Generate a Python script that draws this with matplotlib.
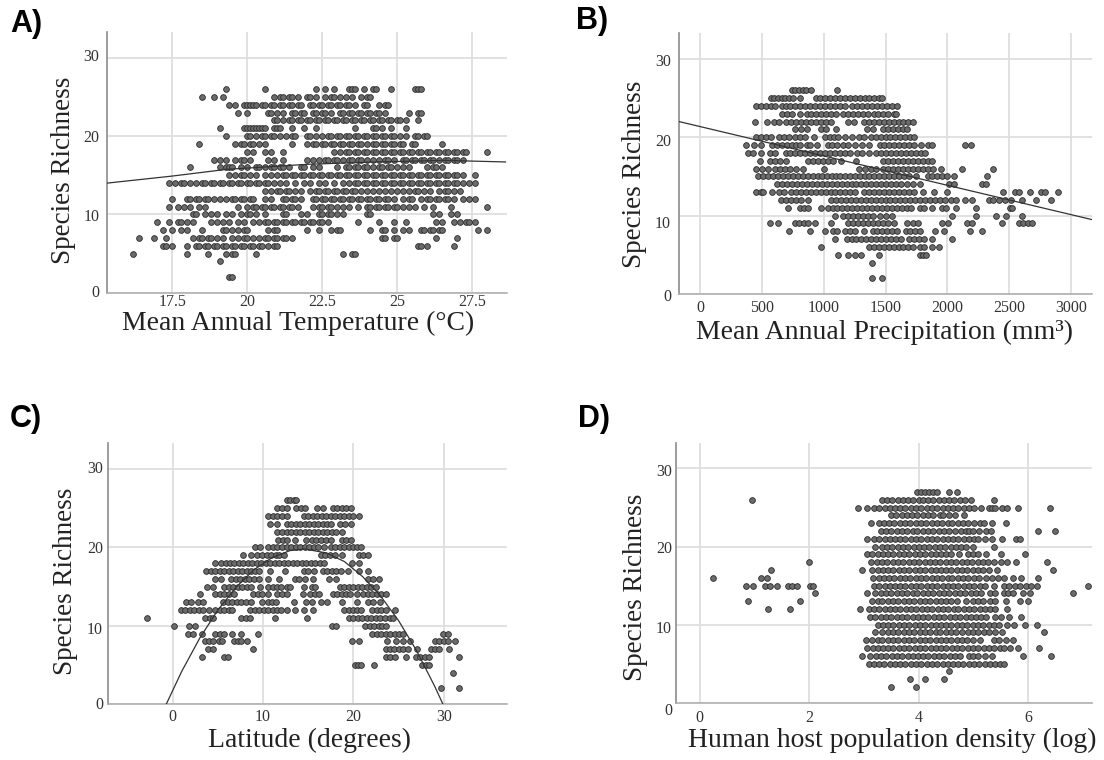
import matplotlib
matplotlib.use('Agg')
import matplotlib.pyplot as plt
from matplotlib.transforms import ScaledTranslation

W, H = 1104, 760

a_y = [26,25,24,23,22,21,20,19,18,17,16,15,14,13,12,11,10,9,8,7,6,5,4,2]
a_x = [
 [19.3,20.6,22.3,22.6,22.9,23.4,23.5,23.6,23.9,24.2,24.3,24.8,25.6,25.7,25.8],
 [18.5,18.9,19.2,20.9,21.1,21.2,21.4,21.5,21.7,22.0,22.1,22.3,22.6,22.8,22.9,23.1,23.3,23.5,23.8,24.0,24.1],
 [19.4,19.6,19.9,20.0,20.1,20.2,20.3,20.5,20.6,20.8,20.9,21.1,21.2,21.4,21.5,21.7,21.8,22.1,22.2,22.4,22.5,22.7,22.8,23.0,23.1,23.3,23.4,23.6,23.9,24.0,24.4,24.6,24.7],
 [19.7,20.0,20.7,20.8,21.0,21.2,21.5,21.6,21.8,21.9,22.2,22.3,22.5,22.6,22.8,23.1,23.2,23.4,23.5,23.7,23.8,24.0,24.1,24.3,24.4,24.6,25.4,25.7,25.8],
 [20.9,21.0,21.2,21.4,21.5,21.7,21.8,22.0,22.1,22.3,22.4,22.6,22.7,22.9,23.0,23.2,23.3,23.5,23.6,23.8,23.9,24.1,24.2,24.4,24.5,24.7,24.8,25.0,25.1,25.3,25.7],
 [19.1,19.9,20.0,20.1,20.2,20.3,20.4,20.5,20.6,20.9,21.0,21.1,21.5,21.9,22.3,23.6,24.2,24.3,24.5,24.8,25.3],
 [19.3,20.0,20.1,20.3,20.5,20.6,20.8,20.9,21.1,21.3,21.5,21.6,22.0,22.1,22.3,22.5,22.7,22.8,23.0,23.1,23.3,23.4,23.6,23.7,23.9,24.0,24.2,24.3,24.5,24.6,24.8,24.9,25.1,25.3,25.6,25.7,25.9,26.0],
 [18.4,19.6,19.8,19.9,20.1,20.2,20.4,20.6,21.5,22.0,22.2,22.3,22.5,22.6,22.8,22.9,23.1,23.2,23.4,23.5,23.7,23.8,24.0,24.2,24.3,24.5,24.6,24.8,24.9,25.1,25.2,25.5,25.6,26.5],
 [20.0,20.2,20.6,20.8,21.2,22.9,23.1,23.3,23.4,23.6,23.7,23.9,24.0,24.2,24.3,24.5,24.6,24.8,24.9,25.1,25.2,25.4,25.5,25.7,25.8,26.0,26.1,26.3,26.4,26.6,26.7,26.9,27.0,27.2,27.3,28.0],
 [18.9,19.1,19.3,19.6,19.8,19.9,20.1,20.7,20.9,21.2,22.0,22.2,22.4,22.6,22.7,22.9,23.0,23.2,23.4,23.5,23.7,23.8,24.0,24.2,24.4,24.6,24.7,24.9,25.2,25.3,25.5,25.6,25.8,25.9,26.1,26.2,26.4,26.6,26.7,26.9,27.0,27.2],
 [18.1,19.1,19.3,19.4,19.5,19.8,20.0,20.3,20.4,20.6,20.8,20.9,21.1,21.2,21.4,21.8,21.9,22.2,22.4,23.0,23.3,23.4,23.6,23.7,23.9,24.0,24.2,24.4,24.5,24.7,24.8,25.0,25.2,25.4,26.0,26.2,26.3,26.5],
 [19.4,19.6,19.8,19.9,20.1,20.3,20.6,20.8,21.0,21.2,21.3,21.5,21.6,21.8,21.9,22.1,22.2,22.4,22.5,22.7,22.8,23.0,23.1,23.3,23.4,23.6,23.7,23.9,24.0,24.2,24.3,24.5,24.6,24.8,24.9,25.1,25.2,25.4,25.5,25.7,25.8,26.0,26.1,26.3,26.4,26.6,26.7,26.9,27.0,27.2,27.6],
 [17.4,17.6,17.8,17.9,18.1,18.3,18.5,18.6,18.8,18.9,19.1,19.2,19.4,19.5,19.7,19.8,20.0,20.1,20.3,20.4,20.6,20.7,20.9,21.1,21.3,21.6,21.9,22.1,22.4,22.6,22.9,23.2,23.4,23.6,23.7,23.9,24.0,24.2,24.3,24.5,24.6,24.8,24.9,25.1,25.2,25.4,25.5,25.7,25.8,26.0,26.1,26.3,26.4,26.6,26.7,26.9,27.0,27.2,27.4,27.6],
 [20.6,20.8,21.0,21.1,21.3,21.4,21.6,21.8,22.1,22.3,22.4,22.6,22.7,22.9,23.0,23.2,23.3,23.5,23.6,23.8,24.0,24.2,24.4,24.6,24.8,25.0,25.2,25.4,25.6,25.7,25.9,26.1,26.4,26.6,26.7,26.9,27.1],
 [17.5,18.0,18.1,18.3,18.4,18.6,18.7,18.9,19.1,19.3,19.5,19.6,19.8,19.9,20.1,20.2,20.6,20.8,21.2,21.3,21.5,21.6,21.8,22.2,22.3,22.5,22.6,22.8,22.9,23.1,23.2,23.4,23.5,23.7,23.8,24.0,24.1,24.3,24.4,24.6,24.7,24.9,25.2,25.4,25.5,25.8,26.0,26.1,26.3,26.4,26.6,26.7,26.9,27.2,27.4,27.6],
 [17.4,17.7,17.9,18.1,18.4,18.6,19.7,20.0,20.2,20.3,20.5,20.6,20.8,20.9,21.1,21.2,21.4,21.5,21.7,22.2,22.4,22.5,22.7,22.8,23.0,23.2,23.4,23.7,24.0,24.1,24.3,24.4,24.6,24.7,24.9,25.0,25.2,25.4,25.6,25.9,26.2,26.8,28.0],
 [18.2,18.3,18.6,18.8,19.0,19.3,19.5,19.8,20.0,20.1,20.3,20.6,21.2,21.3,21.8,22.0,22.4,22.5,22.7,22.8,23.0,23.2,24.0,24.1,26.2,26.4,26.8,27.0],
 [17.0,17.4,17.7,17.8,18.0,18.2,18.8,19.0,19.2,19.4,19.7,19.9,20.2,20.4,20.6,20.7,20.9,21.0,21.2,21.3,21.5,21.6,21.8,21.9,22.1,22.2,22.4,22.5,22.7,23.7,24.4,24.9,25.3,26.3,26.5,26.9,27.1,27.3,27.4,27.6],
 [17.2,17.5,17.8,18.0,18.5,19.2,19.3,19.5,19.7,19.9,20.0,20.7,20.9,21.0,22.0,22.4,22.8,23.0,23.1,24.1,24.5,24.6,24.9,25.2,25.4,25.8,25.9,26.1,26.2,26.4,26.5,27.7,28.0],
 [16.4,16.9,17.3,18.2,18.4,18.5,18.7,18.8,19.0,19.2,19.5,19.7,19.9,20.0,20.2,20.4,20.6,20.7,20.9,21.0,21.2,21.3,21.5,24.5,24.6,24.9,25.0,26.3,27.0],
 [17.2,17.3,17.5,18.0,18.3,18.4,18.6,18.7,18.9,19.0,19.2,19.3,19.5,19.6,19.8,19.9,20.1,20.2,20.4,20.5,20.7,20.9,21.0,25.7,25.8,26.0,26.9],
 [16.2,18.0,18.7,19.3,19.5,19.6,20.3,23.2,23.5,23.6],
 [19.1],
 [19.4,19.5],
]
a_fit_x = [15.33,17.5,19.3,22.0,24.3,26.6,28.61]
a_fit_y = [14.0,14.9,15.75,16.4,16.7,16.9,16.7]

b_y = [26,25,24,23,22,21,20,19,18,17,16,15,14,13,12,11,10,9,8,7,6,5,4,2]
b_x = [
 [740,770,800,830,860,900,1110],
 [570,600,630,660,690,720,750,810,940,970,1010,1050,1090,1130,1170,1210,1250,1290,1330,1370,1410,1450,1470],
 [455,490,530,570,610,660,694,730,770,810,850,890,930,970,1010,1050,1090,1130,1170,1228,1270,1310,1350,1390,1430,1470,1510,1550,1593],
 [666,700,740,806,862,900,940,980,1020,1060,1101,1157,1195,1235,1275,1315,1355,1410,1438,1480,1520,1565,1584],
 [441,545,595,640,694,736,775,815,855,895,935,975,1015,1059,1194,1242,1326,1365,1405,1445,1485,1525,1565,1605,1645,1685,1720],
 [764,820,868,975,1017,1101,1354,1396,1480,1520,1560,1600,1640,1677],
 [455,490,530,570,638,680,720,765,806,848,919,1008,1050,1085,1115,1171,1228,1284,1326,1382,1420,1460,1500,1540,1580,1620,1660,1700,1733],
 [371,433,492,581,620,660,700,740,778,806,862,890,947,1031,1070,1110,1157,1199,1256,1312,1368,1452,1490,1530,1570,1610,1650,1691,1733,1789,1845,1873,2146,2191],
 [385,427,489,562,610,694,730,770,810,850,890,930,970,1010,1050,1090,1130,1170,1210,1270,1312,1368,1424,1466,1505,1545,1585,1625,1665,1705,1745,1785,1817],
 [483,567,610,650,694,876,915,955,995,1035,1075,1143,1261,1480,1520,1560,1600,1640,1680,1720,1760,1800,1840,1873],
 [455,500,553,610,650,690,730,775,834,1003,1284,1330,1380,1424,1480,1520,1560,1600,1640,1680,1720,1760,1800,1840,1887,1949,2121,2365],
 [469,510,550,590,630,670,710,750,790,830,870,910,950,990,1030,1070,1101,1129,1170,1210,1250,1290,1330,1370,1410,1450,1490,1530,1570,1610,1650,1690,1747,1845,1873,1916,1960,2000,2056,2317],
 [624,665,705,745,785,825,865,905,945,985,1025,1065,1105,1145,1185,1225,1265,1305,1345,1385,1425,1465,1505,1545,1585,1625,1677,1719,1775,2014,2056,2281,2309],
 [455,490,511,581,638,680,736,778,815,855,895,935,975,1015,1055,1095,1135,1175,1215,1255,1326,1368,1410,1450,1490,1530,1570,1610,1650,1691,1733,1803,1893,2000,2449,2548,2576,2666,2758,2786,2893],
 [652,694,736,775,815,876,1059,1100,1140,1180,1220,1260,1300,1340,1380,1420,1460,1500,1540,1580,1620,1660,1700,1740,1780,1820,1860,1900,1940,1980,2030,2070,2140,2197,2337,2365,2421,2463,2514,2604,2716,2837],
 [708,806,840,876,975,1031,1073,1110,1150,1190,1230,1270,1310,1350,1390,1430,1470,1510,1550,1590,1630,1670,1705,1775,1815,1873,1958,1986,2070,2230,2505,2519],
 [1095,1157,1195,1235,1275,1315,1355,1396,1452,1500,1550,2036,2230,2393,2477,2604],
 [562,629,764,800,840,876,932,1059,1199,1240,1280,1320,1360,1400,1440,1480,1520,1565,1677,1720,1761,1958,2008,2160,2196,2441,2576,2610,2650,2688],
 [716,890,1011,1073,1110,1171,1213,1256,1326,1396,1435,1475,1515,1555,1593,1663,1700,1735,1775,1902,1972,2183,2281],
 [1093,1185,1225,1265,1305,1345,1385,1425,1465,1505,1545,1585,1621,1691,1730,1770,1810,1873,2036],
 [980,1368,1405,1445,1485,1525,1565,1605,1645,1685,1719,1775,1815,1873,1935],
 [1115,1194,1256,1298,1444,1775,1805,1831],
 [1388],
 [1388,1475],
]
b_fit_x = [-170,3167]
b_fit_y = [22.0,9.5]

c_y = [26,25,24,23,22,21,20,19,18,17,16,15,14,13,12,11,10,9,8,7,6,5,4,2]
c_x = [
 [12.6,13.0,13.4,13.7],
 [11.6,12.1,12.6,13.7,14.2,14.7,16.0,16.6,17.7,18.2,18.7,19.2,19.7],
 [10.6,11.1,11.6,12.1,12.7,14.5,15.0,15.5,16.0,16.5,17.0,17.5,18.0,18.5,19.0,19.5,20.0,20.6],
 [10.8,11.6,12.6,13.1,13.6,14.1,14.6,15.1,15.6,16.1,16.6,17.1,17.5,18.5,19.1,19.7],
 [11.6,12.1,12.6,13.1,13.6,14.1,14.6,15.1,15.6,16.1,16.6,17.1,17.6,18.1,18.7],
 [11.7,12.2,12.7,13.5,14.8,15.4,15.9,16.4,17.0,17.5,18.7,19.2,19.7],
 [9.1,9.7,10.6,11.1,11.6,12.1,12.6,13.1,13.6,14.1,14.6,15.1,15.6,16.1,16.8,17.5,18.0,18.5,19.0,19.5,20.0,20.4,20.8],
 [7.8,8.7,9.3,9.9,10.4,10.9,11.4,11.8,12.3,16.4,16.9,17.4,18.0,18.7,20.6,21.1,21.6],
 [4.7,5.3,5.9,6.3,6.8,7.3,7.8,8.3,8.8,9.3,9.8,10.3,10.8,11.3,11.8,12.3,12.8,13.3,13.8,14.3,14.8,15.3,15.8,16.3,16.8,19.8,20.6],
 [3.7,4.2,4.7,5.2,5.7,6.2,6.7,7.2,7.7,8.2,8.7,9.1,9.5,10.8,12.4,14.5,15.0,15.6,16.6,17.1,17.6,18.1,18.6,19.4,20.6,21.6],
 [4.7,5.3,6.5,7.0,7.5,8.0,8.5,9.0,9.5,10.5,11.8,13.5,14.0,14.7,15.5,17.3,18.1,21.6,22.2,22.8],
 [3.8,4.5,5.7,6.2,6.7,7.2,7.7,8.2,8.7,9.7,10.6,11.1,11.6,12.0,12.6,13.0,14.5,15.4,15.8,18.5,19.0,19.5,20.0,20.5,21.0,21.5,22.0,22.5],
 [3.0,4.7,5.2,5.7,6.2,6.8,8.9,9.4,9.9,10.6,11.6,12.1,12.7,14.4,15.2,15.7,16.2,17.7,18.2,18.7,19.2,19.6,20.4,21.1,21.6,22.1,22.6,23.1,23.6],
 [1.5,2.0,2.8,3.4,5.6,6.1,6.6,7.1,7.6,8.1,8.7,9.9,10.6,11.0,11.4,13.4,14.8,15.4,16.4,17.1,18.7,20.4,21.6,22.2,22.9],
 [0.9,1.4,1.9,2.4,2.9,3.4,4.0,4.7,5.2,5.7,6.2,6.6,8.6,9.1,9.6,10.1,10.6,11.1,11.6,12.0,12.7,13.5,14.5,15.5,19.0,19.5,20.0,20.4,20.8,22.1,22.6,23.1,23.6,24.6],
 [-2.8,3.6,4.1,4.5,7.6,8.1,8.6,11.3,14.9,19.5,20.0,20.5,21.0,21.5,22.0,22.5,23.0,23.5,24.0,24.4],
 [0.1,1.8,2.5,17.6,18.1,21.3,21.8,22.3,22.8,23.2,23.6],
 [1.7,2.3,3.2,4.7,5.2,5.7,6.6,7.6,9.4,22.1,22.6,23.1,23.6,24.1,24.6,25.0,25.5,29.9,30.5],
 [3.6,4.0,4.5,5.1,5.5,6.8,7.2,7.6,8.2,19.9,20.6,23.7,24.7,25.5,26.3,29.0,29.5,30.0,30.5,31.3],
 [3.9,4.5,8.9,23.6,24.0,24.5,25.0,25.5,26.0,27.0,28.6,29.0,29.5,30.6],
 [3.2,5.7,6.1,23.6,24.0,24.6,25.8,26.9,27.4,27.9,28.4,31.7],
 [20.2,20.5,20.8,22.3,27.6,28.0,28.4],
 [31.0],
 [29.7,31.7],
]
c_fit_x = [-0.7,1,3,5,7,9,11,13,14.6,17,19,21,23,25,27,29,29.9]
c_fit_y = [0,4.16,8.42,12.0,14.9,17.15,18.7,19.6,19.8,19.3,18.2,16.3,13.8,10.65,6.8,2.26,0]

d_y = [27,26,25,24,23,22,21,20,19,18,17,16,15,14,13,12,11,10,9,8,7,6,5,4,3,2]
d_x = [
 [3.98,4.05,4.12,4.19,4.26,4.34,4.55,4.7],
 [0.95,3.34,3.42,3.52,3.62,3.71,3.8,3.9,4.0,4.09,4.18,4.27,4.37,4.46,4.56,4.65,4.75,4.85,4.96,5.38],
 [2.89,3.06,3.18,3.28,3.38,3.47,3.57,3.67,3.76,3.86,3.96,4.05,4.15,4.25,4.34,4.44,4.54,4.63,4.73,4.83,4.92,5.02,5.15,5.28,5.34,5.4,5.53,5.62,5.82,6.4],
 [3.5,3.59,3.69,3.79,3.88,3.98,4.08,4.17,4.27,4.39,4.45,4.55,4.67,4.83],
 [3.14,3.27,3.37,3.46,3.56,3.66,3.75,3.85,3.95,4.04,4.14,4.24,4.33,4.43,4.53,4.62,4.72,4.82,4.91,5.01,5.12,5.19,5.34,5.59],
 [3.31,3.4,3.5,3.6,3.69,3.79,3.89,3.98,4.08,4.18,4.27,4.37,4.47,4.56,4.66,4.77,4.86,4.93,4.99,5.1,5.23,5.33,6.18,6.49],
 [3.06,3.18,3.28,3.38,3.47,3.57,3.67,3.76,3.86,3.96,4.05,4.15,4.25,4.34,4.44,4.54,4.63,4.73,4.83,4.92,5.02,5.09,5.21,5.34,5.53,5.78,5.86],
 [3.2,3.33,3.43,3.52,3.62,3.72,3.81,3.91,4.01,4.1,4.2,4.3,4.39,4.49,4.59,4.68,4.78,4.86,4.99,5.37],
 [3.06,3.15,3.25,3.35,3.44,3.54,3.64,3.73,3.83,3.93,4.02,4.12,4.22,4.31,4.41,4.51,4.6,4.74,4.9,5.0,5.09,5.23,5.5,5.94],
 [2.0,3.14,3.24,3.34,3.43,3.53,3.63,3.72,3.82,3.92,4.01,4.11,4.21,4.3,4.4,4.5,4.59,4.69,4.79,4.88,4.98,5.08,5.17,5.27,5.37,5.5,5.61,5.79,6.35],
 [1.31,2.96,3.15,3.25,3.35,3.44,3.54,3.64,3.73,3.83,3.93,4.02,4.12,4.22,4.31,4.41,4.51,4.6,4.7,4.8,4.89,4.99,5.09,5.18,5.28,5.43,6.45],
 [0.25,1.12,1.23,3.17,3.27,3.37,3.46,3.56,3.66,3.75,3.85,3.95,4.04,4.14,4.24,4.33,4.43,4.53,4.62,4.72,4.82,4.91,5.01,5.11,5.24,5.34,5.45,5.56,5.72,5.88,6.18],
 [0.84,0.97,1.2,1.29,1.41,1.62,1.69,1.77,2.01,2.07,3.18,3.28,3.38,3.47,3.57,3.67,3.76,3.86,3.96,4.05,4.15,4.25,4.34,4.44,4.54,4.63,4.73,4.83,4.92,5.02,5.12,5.21,5.37,5.56,5.66,5.76,5.86,5.96,6.06,6.16,7.09],
 [2.1,3.06,3.21,3.31,3.4,3.5,3.6,3.69,3.79,3.89,3.98,4.08,4.18,4.27,4.37,4.47,4.56,4.66,4.76,4.85,4.95,5.05,5.14,5.31,5.4,5.56,5.64,5.72,5.91,6.04,6.83],
 [0.89,1.84,3.15,3.25,3.34,3.44,3.54,3.63,3.73,3.83,3.92,4.02,4.12,4.21,4.31,4.41,4.5,4.6,4.7,4.86,4.99,5.08,5.18,5.31,5.4,5.59,5.85,6.0],
 [1.24,1.65,2.93,3.09,3.19,3.28,3.38,3.48,3.57,3.67,3.77,3.86,3.96,4.06,4.15,4.25,4.35,4.44,4.54,4.64,4.73,4.83,4.93,5.02,5.12,5.22,5.31,5.4,5.62],
 [3.12,3.21,3.31,3.41,3.5,3.6,3.7,3.79,3.89,3.99,4.08,4.18,4.28,4.37,4.47,4.57,4.66,4.76,4.86,4.95,5.05,5.15,5.24,5.4,5.5,5.66,5.87],
 [3.25,3.35,3.44,3.54,3.64,3.73,3.83,3.93,4.02,4.12,4.22,4.31,4.41,4.51,4.6,4.7,4.8,4.89,4.99,5.09,5.18,5.28,5.38,5.47,5.62,5.75,5.95,6.17],
 [3.21,3.34,3.44,3.53,3.63,3.73,3.82,3.92,4.02,4.11,4.21,4.31,4.4,4.5,4.6,4.69,4.8,4.9,5.0,5.09,5.19,5.28,5.4,5.53,6.29],
 [3.04,3.15,3.25,3.34,3.44,3.54,3.63,3.73,3.83,3.92,4.02,4.12,4.21,4.31,4.41,4.5,4.6,4.7,4.79,4.89,4.99,5.12,5.37,5.47,5.59,5.72],
 [3.06,3.16,3.25,3.35,3.45,3.54,3.64,3.74,3.83,3.93,4.03,4.12,4.22,4.32,4.41,4.51,4.61,4.7,4.8,4.9,4.99,5.09,5.19,5.28,5.38,5.48,5.57,5.67,5.81,6.21],
 [2.97,3.12,3.22,3.31,3.41,3.51,3.6,3.7,3.8,3.89,3.99,4.09,4.18,4.28,4.38,4.47,4.57,4.67,4.76,4.93,4.99,5.09,5.21,5.34,5.91,6.42],
 [3.1,3.18,3.28,3.37,3.47,3.57,3.66,3.76,3.86,3.95,4.05,4.15,4.24,4.34,4.44,4.53,4.63,4.73,4.82,4.92,5.02,5.11,5.21,5.31,5.4,5.48,5.56],
 [4.55],
 [3.84,4.11,4.46],
 [3.49,3.96],
]

a_ticks = [17.5,20,22.5,25,27.5]
a_ticklabels = ['17.5','20','22.5','25','27.5']
b_ticks = [0,500,1000,1500,2000,2500,3000]
c_ticks = [0,10,20,30]
d_ticks = [0,2,4,6]
y_ticks = [0,10,20,30]


def panel(box, xlim, rows, xs, ticks, labels, xlabel, xlabel_pos, ylabel_pos, xpad, ypad, yshift):
    # box is left, top, right, bottom in pixels
    l, t, r, b = box
    ax = fig.add_axes([l/W, 1-b/H, (r-l)/W, (b-t)/H])
    ax.set_xlim(xlim)
    ax.set_ylim(0, 33.3)
    ax.set_axisbelow(True)
    ax.grid(True, color='#dedede', lw=1.3)
    for y, x in zip(rows, xs):
        ax.scatter(x, [y]*len(x), s=17, facecolor='#6b6b6b', edgecolor='#2a2a2a', lw=0.6, zorder=3)
    for s in ['top','right']:
        ax.spines[s].set_visible(False)
    ax.spines['left'].set_color('#8c8c8c')
    ax.spines['bottom'].set_color('#b0b0b0')
    ax.spines['left'].set_linewidth(1.2)
    ax.spines['bottom'].set_linewidth(1.2)
    ax.set_xticks(ticks)
    ax.set_xticklabels(labels)
    ax.set_yticks(y_ticks)
    ax.tick_params(length=0, labelsize=11.5, labelcolor='#333333')
    ax.tick_params(axis='x', pad=xpad)
    ax.tick_params(axis='y', pad=ypad)
    # the y tick labels do not sit quite on their gridlines in the original
    for lab, off in zip(ax.get_yticklabels(), yshift):
        lab.set_transform(lab.get_transform() + ScaledTranslation(0, -off/100, fig.dpi_scale_trans))
    fig.text(ylabel_pos[0]/W, 1-ylabel_pos[1]/H, 'Species Richness', rotation=90, fontsize=19.5,
             ha='center', va='center', color='#222222')
    fig.text(xlabel_pos[0]/W, 1-xlabel_pos[1]/H, xlabel, fontsize=20,
             ha='center', va='center', color='#222222')
    return ax


plt.rcParams['font.family'] = ['Liberation Serif', 'DejaVu Serif']
fig = plt.figure(figsize=(W/100, H/100), dpi=100)

ax = panel((107.3,32,506.7,292.7), (15.33,28.65), a_y, a_x, a_ticks, a_ticklabels,
           'Mean Annual Temperature (°C)', (298,323), (64,170), 1, 5.8, [-2,1,0,-3])
ax.plot(a_fit_x, a_fit_y, color='#333333', lw=0.9, zorder=4)

ax = panel((679,33,1091.7,294), (-170,3167), b_y, b_x, b_ticks, [str(v) for v in b_ticks],
           'Mean Annual Precipitation (mm³)', (884,332), (635,174), 4, 5.8, [1,6,3,1.5])
ax.plot(b_fit_x, b_fit_y, color='#333333', lw=0.9, zorder=4)

ax = panel((107.6,443.3,507,704), (-7.2,37), c_y, c_x, c_ticks, [str(v) for v in c_ticks],
           'Latitude (degrees)', (310,740), (66,581), 3.4, 3.3, [-1,2.5,0,-1.7])
ax.plot(c_fit_x, c_fit_y, color='#333333', lw=0.9, zorder=4)

ax = panel((675.6,442.7,1092,702.7), (-0.44,7.17), d_y, d_x, d_ticks, [str(v) for v in d_ticks],
           'Human host population density (log)', (892,740), (636,587), 5, 2.6, [6,2,0,1.5])

for txt, x, y in [('A)',10,24), ('B)',576,21), ('C)',10,419), ('D)',578,419)]:
    fig.text(x/W, 1-y/H, txt, family='Liberation Sans', fontweight='bold', fontsize=22,
             ha='left', va='center', color='black')

fig.savefig('out.png', dpi=100)
plt.close()
